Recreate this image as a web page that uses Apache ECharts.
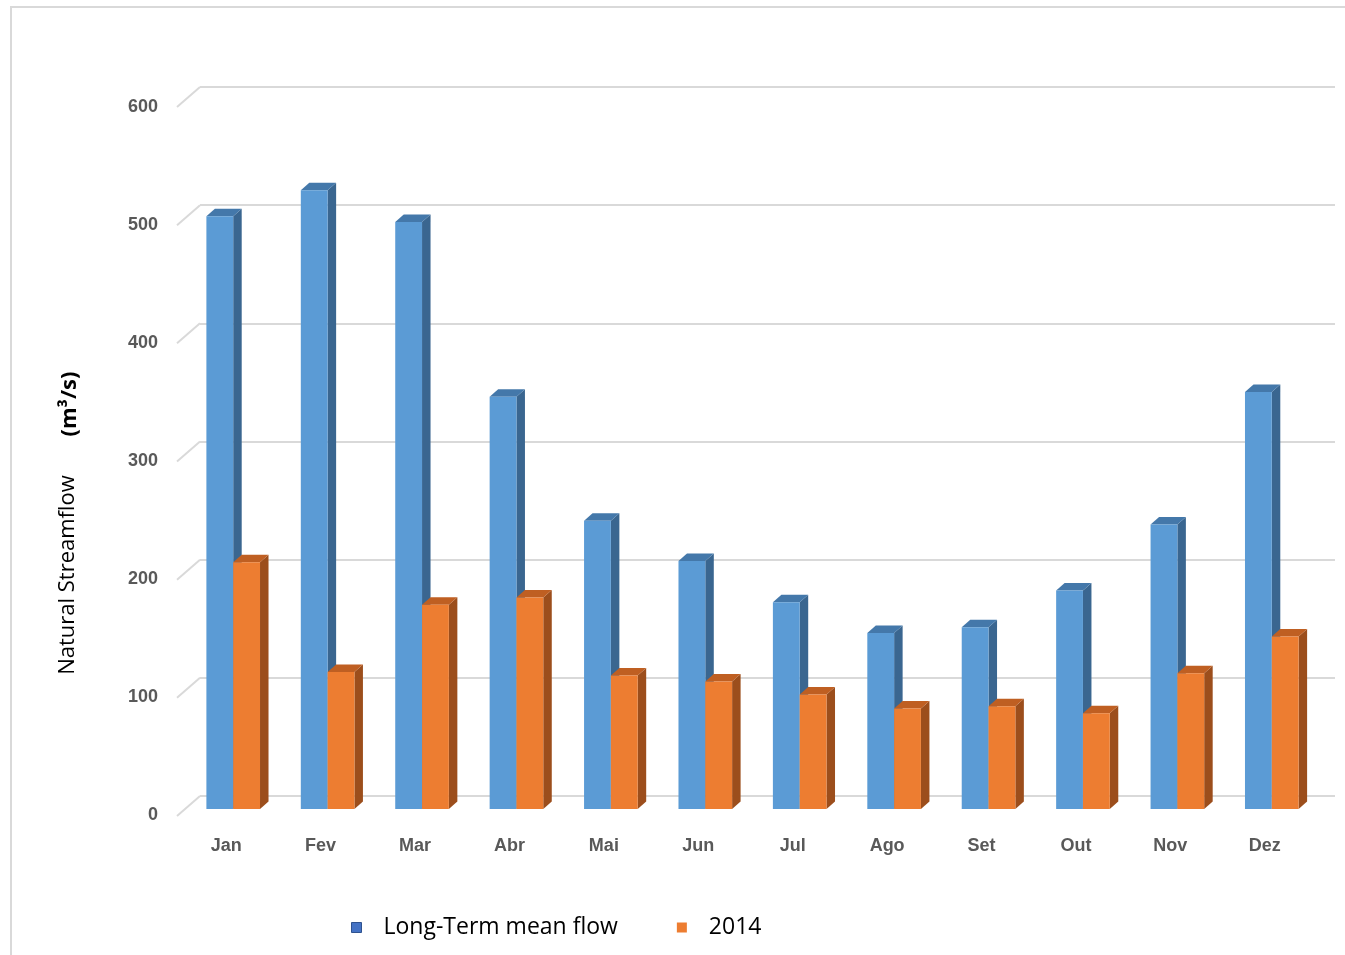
<!DOCTYPE html>
<html>
<head>
<meta charset="utf-8">
<script src="https://cdn.jsdelivr.net/npm/echarts@6/dist/echarts.min.js"></script>
<style>
html,body{margin:0;padding:0;background:#fff;}
#chart{width:1345px;height:955px;}
</style>
</head>
<body>
<div id="chart"></div>
<script>
const categories = ['Jan','Fev','Mar','Abr','Mai','Jun','Jul','Ago','Set','Out','Nov','Dez'];
const longTermMean = [502, 524, 497, 349, 244, 210, 175, 149, 154, 185, 241, 353];
const flow2014 = [209, 116, 173, 179, 113, 108, 97, 85, 87, 81, 115, 146];
const yTicks = [0, 100, 200, 300, 400, 500, 600];
const seriesNames = ['Long-Term mean flow', '2014'];

const palette = [
  {front:'#5b9bd5', side:'#3a6690', top:'#4478aa', legend:'#4472c4'},
  {front:'#ed7d31', side:'#9c4e1c', top:'#bf5f22', legend:'#ed7d31'}
];
const DX = 8.5, DY = -7.5;

function barRenderer(k){
  const c = palette[k];
  return function(params, api){
    const i = api.value(0), v = api.value(1);
    const base = api.coord([i, 0]);
    const top = api.coord([i, v]);
    const band = api.size([1, 0])[0];
    const w = band * 0.284;
    const xL = k === 0 ? base[0] - w : base[0];
    const xR = xL + w;
    const yT = top[1], yB = base[1];
    return {type:'group', children:[
      {type:'polygon', shape:{points:[[xR,yT],[xR+DX,yT+DY],[xR+DX,yB+DY],[xR,yB]]}, style:{fill:c.side}},
      {type:'polygon', shape:{points:[[xL,yT],[xL+DX,yT+DY],[xR+DX,yT+DY],[xR,yT]]}, style:{fill:c.top}},
      {type:'rect', shape:{x:xL, y:yT, width:w, height:yB-yT}, style:{fill:c.front}}
    ]};
  };
}

function diagRenderer(params, api){
  const t = api.value(1);
  const p = api.coord([0, t]);
  const x0 = params.coordSys.x;
  return {type:'line', shape:{x1:x0-23, y1:p[1]+20, x2:x0, y2:p[1]}, style:{stroke:'#d9d9d9', lineWidth:2}};
}

const labelFont = {color:'#595959', fontWeight:'bold', fontSize:18, fontFamily:'Liberation Sans, Arial, sans-serif'};
const textFont = 'Open Sans, Liberation Sans, Arial, sans-serif';

const chart = echarts.init(document.getElementById('chart'), null, {renderer:'canvas'});
chart.setOption({
  backgroundColor:'#ffffff',
  animation:false,
  grid:[
    {left:200, right:10, top:87, bottom:159},
    {left:186, right:26, top:100.4, bottom:146},
    {left:178, right:10, top:107, bottom:140}
  ],
  xAxis:[
    {gridIndex:0, type:'category', data:categories, show:false},
    {gridIndex:1, type:'category', data:categories,
      axisLine:{show:false}, axisTick:{show:false},
      axisLabel:Object.assign({margin:28, padding:[0,14,0,0]}, labelFont)},
    {gridIndex:2, type:'category', data:categories, show:false}
  ],
  yAxis:[
    {gridIndex:0, type:'value', min:0, max:600, interval:100,
      axisLine:{show:false}, axisTick:{show:false}, axisLabel:{show:false},
      splitLine:{show:true, lineStyle:{color:'#d9d9d9', width:2}}},
    {gridIndex:1, type:'value', min:0, max:600, interval:100, show:false, splitLine:{show:false}},
    {gridIndex:2, type:'value', min:0, max:600, interval:100,
      axisLine:{show:false}, axisTick:{show:false}, splitLine:{show:false},
      axisLabel:Object.assign({margin:20}, labelFont)}
  ],
  legend:{
    left:346, top:911, itemWidth:10, itemHeight:10, itemGap:59, icon:'rect',
    textStyle:{color:'#000', fontSize:23, fontFamily:textFont, padding:[0,0,0,17]},
    data:[
      {name:seriesNames[0], itemStyle:{color:palette[0].legend, borderColor:'#2f528f', borderWidth:1}},
      {name:seriesNames[1], itemStyle:{color:palette[1].legend}}
    ]
  },
  graphic:[
    {type:'rect', shape:{x:11, y:7, width:1400, height:1000}, style:{fill:'none', stroke:'#d9d9d9', lineWidth:2}, silent:true, z:-10},
    {type:'text', x:68, y:575, rotation:Math.PI/2, style:{text:'Natural Streamflow', fill:'#000', fontSize:22, fontFamily:textFont, align:'center', verticalAlign:'middle'}},
    {type:'text', x:70, y:404, rotation:Math.PI/2, style:{text:'(m³/s)', fill:'#000', fontSize:22, fontWeight:'bold', fontFamily:textFont, align:'center', verticalAlign:'middle'}}
  ],
  series:[
    {type:'custom', name:'walltick', xAxisIndex:0, yAxisIndex:0, silent:true,
      data:yTicks.map(t => [0, t]), renderItem:diagRenderer, encode:{x:0, y:1}},
    {type:'custom', name:seriesNames[0], xAxisIndex:1, yAxisIndex:1,
      itemStyle:{color:palette[0].legend},
      data:longTermMean.map((v,i) => [i, v]), renderItem:barRenderer(0), encode:{x:0, y:1}},
    {type:'custom', name:seriesNames[1], xAxisIndex:1, yAxisIndex:1,
      itemStyle:{color:palette[1].legend},
      data:flow2014.map((v,i) => [i, v]), renderItem:barRenderer(1), encode:{x:0, y:1}}
  ]
});
</script>
</body>
</html>
